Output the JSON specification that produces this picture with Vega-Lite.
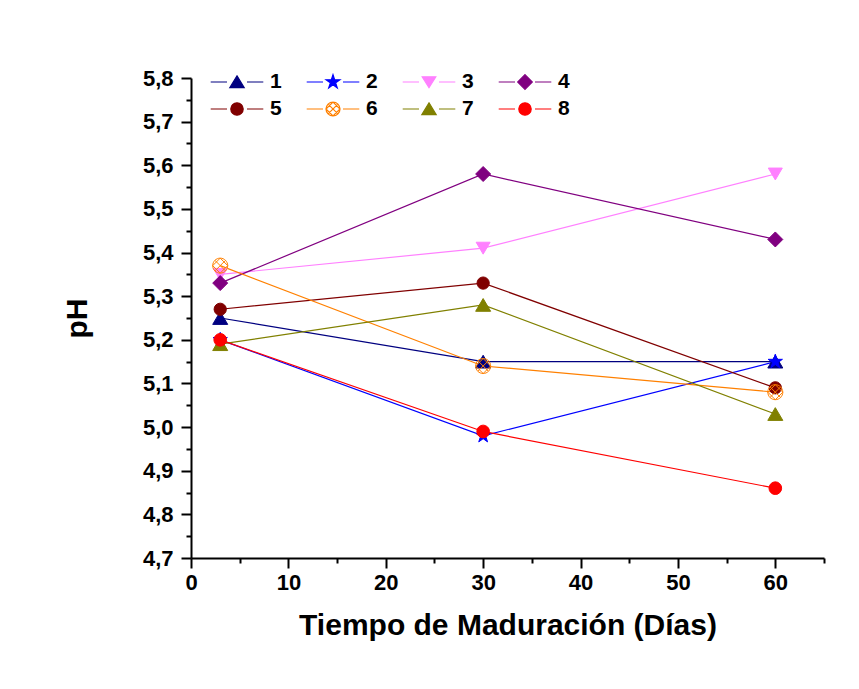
{
  "$schema": "https://vega.github.io/schema/vega-lite/v6.json",
  "width": 633,
  "height": 480,
  "autosize": "none",
  "padding": {"left": 191, "top": 78, "right": 35, "bottom": 131},
  "background": "white",
  "config": {
    "view": {"stroke": null},
    "font": "Liberation Sans"
  },
  "data": {
    "values": [
      {"s": "1", "day": 3, "pH": 5.25}, {"s": "1", "day": 30, "pH": 5.15}, {"s": "1", "day": 60, "pH": 5.15},
      {"s": "2", "day": 3, "pH": 5.20}, {"s": "2", "day": 30, "pH": 4.98}, {"s": "2", "day": 60, "pH": 5.15},
      {"s": "3", "day": 3, "pH": 5.35}, {"s": "3", "day": 30, "pH": 5.41}, {"s": "3", "day": 60, "pH": 5.58},
      {"s": "4", "day": 3, "pH": 5.33}, {"s": "4", "day": 30, "pH": 5.58}, {"s": "4", "day": 60, "pH": 5.43},
      {"s": "5", "day": 3, "pH": 5.27}, {"s": "5", "day": 30, "pH": 5.33}, {"s": "5", "day": 60, "pH": 5.09},
      {"s": "6", "day": 3, "pH": 5.37}, {"s": "6", "day": 30, "pH": 5.14}, {"s": "6", "day": 60, "pH": 5.08},
      {"s": "7", "day": 3, "pH": 5.19}, {"s": "7", "day": 30, "pH": 5.28}, {"s": "7", "day": 60, "pH": 5.03},
      {"s": "8", "day": 3, "pH": 5.20}, {"s": "8", "day": 30, "pH": 4.99}, {"s": "8", "day": 60, "pH": 4.86}
    ]
  },
  "encoding": {
    "x": {
      "field": "day", "type": "quantitative",
      "scale": {"domain": [0, 65], "nice": false, "zero": false},
      "axis": {
        "title": "Tiempo de Maduración (Días)",
        "values": [0, 5, 10, 15, 20, 25, 30, 35, 40, 45, 50, 55, 60, 65],
        "labelExpr": "datum.value % 10 == 0 ? datum.label : ''",
        "tickSize": {"condition": {"test": "datum.value % 10 == 0", "value": 10}, "value": 5},
        "grid": false,
        "domainColor": "black", "domainWidth": 2,
        "tickColor": "black", "tickWidth": 2,
        "labelFont": "Liberation Sans", "labelFontSize": 22, "labelFontWeight": "bold", "labelColor": "black",
        "labelPadding": 4, "labelFlush": false, "labelOverlap": false,
        "titleFont": "Liberation Sans", "titleFontSize": 30, "titleFontWeight": "bold", "titleColor": "black",
        "titlePadding": 17
      }
    },
    "y": {
      "field": "pH", "type": "quantitative",
      "scale": {"domain": [4.7, 5.8], "nice": false, "zero": false},
      "axis": {
        "title": "pH",
        "values": [4.7, 4.75, 4.8, 4.85, 4.9, 4.95, 5.0, 5.05, 5.1, 5.15, 5.2, 5.25, 5.3, 5.35, 5.4, 5.45, 5.5, 5.55, 5.6, 5.65, 5.7, 5.75, 5.8],
        "labelExpr": "round(datum.value * 100) % 10 == 0 ? replace(format(datum.value, '.1f'), '.', ',') : ''",
        "tickSize": {"condition": {"test": "round(datum.value * 100) % 10 == 0", "value": 10}, "value": 5},
        "grid": false,
        "domainColor": "black", "domainWidth": 2,
        "tickColor": "black", "tickWidth": 2,
        "labelFont": "Liberation Sans", "labelFontSize": 22, "labelFontWeight": "bold", "labelColor": "black",
        "labelPadding": 8, "labelFlush": false, "labelOverlap": false,
        "titleFont": "Liberation Sans", "titleFontSize": 30, "titleFontWeight": "bold", "titleColor": "black",
        "titlePadding": 50
      }
    }
  },
  "layer": [
    {
      "mark": {"type": "line", "strokeWidth": 1.2},
      "encoding": {
        "stroke": {
          "field": "s", "type": "nominal",
          "scale": {"domain": ["1", "2", "3", "4", "5", "6", "7", "8"], "range": ["#000080", "#0000ff", "#ff80ff", "#800080", "#800000", "#ff8000", "#808000", "#ff0000"]},
          "legend": {"title": null, "orient": "none", "direction": "horizontal", "legendX": 35, "legendY": -7, "columns": 4, "symbolSize": 400, "labelOffset": 22, "columnPadding": 22, "rowPadding": 6, "labelFont": "Liberation Sans", "labelFontSize": 21, "labelFontWeight": "bold", "labelColor": "black", "padding": 0, "symbolStrokeWidth": 1.2, "symbolOpacity": 1}
        }
      }
    },
    {
      "transform": [{"filter": "datum.s == '1'"}],
      "mark": {"type": "point", "filled": true, "shape": "M0,-0.85L1,0.85L-1,0.85Z", "size": 225, "fill": "#000080", "stroke": "#000080", "strokeWidth": 1, "opacity": 1}
    },
    {
      "transform": [{"filter": "datum.s == '2'"}],
      "mark": {"type": "point", "filled": true, "shape": "M0,-1L0.224,-0.309L0.951,-0.309L0.363,0.118L0.588,0.809L0,0.382L-0.588,0.809L-0.363,0.118L-0.951,-0.309L-0.224,-0.309Z", "size": 225, "fill": "#0000ff", "stroke": "#0000ff", "strokeWidth": 1, "opacity": 1}
    },
    {
      "transform": [{"filter": "datum.s == '3'"}],
      "mark": {"type": "point", "filled": true, "shape": "M-1,-0.85L1,-0.85L0,0.85Z", "size": 196, "fill": "#ff80ff", "stroke": "#ff80ff", "strokeWidth": 1, "opacity": 1}
    },
    {
      "transform": [{"filter": "datum.s == '4'"}],
      "mark": {"type": "point", "filled": true, "shape": "diamond", "size": 225, "fill": "#800080", "stroke": "#800080", "strokeWidth": 1, "opacity": 1}
    },
    {
      "transform": [{"filter": "datum.s == '5'"}],
      "mark": {"type": "point", "filled": true, "shape": "circle", "size": 150, "fill": "#800000", "stroke": "#800000", "strokeWidth": 1, "opacity": 1}
    },
    {
      "transform": [{"filter": "datum.s == '6'"}],
      "mark": {"type": "point", "filled": false, "shape": "M-1,0A1,1 0 1,1 1,0A1,1 0 1,1 -1,0ZM-0.7,-0.7L0.7,0.7M0.7,-0.7L-0.7,0.7M-1,0L0,-1L1,0L0,1Z", "size": 225, "fill": "transparent", "stroke": "#ff8000", "strokeWidth": 1, "opacity": 1}
    },
    {
      "transform": [{"filter": "datum.s == '7'"}],
      "mark": {"type": "point", "filled": true, "shape": "M0,-0.85L1,0.85L-1,0.85Z", "size": 225, "fill": "#808000", "stroke": "#808000", "strokeWidth": 1, "opacity": 1}
    },
    {
      "transform": [{"filter": "datum.s == '8'"}],
      "mark": {"type": "point", "filled": true, "shape": "circle", "size": 160, "fill": "#ff0000", "stroke": "#ff0000", "strokeWidth": 1, "opacity": 1}
    },
    {
      "transform": [{"filter": "false"}],
      "mark": {"type": "point", "filled": true, "strokeWidth": 1.2, "opacity": 1},
      "encoding": {
        "shape": {
          "field": "s", "type": "nominal",
          "scale": {
            "domain": ["1", "2", "3", "4", "5", "6", "7", "8"],
            "range": [
              "M-2.63,0H-1M1,0H2.63M0,-0.62L0.72,0.57L-0.72,0.57Z",
              "M-2.63,0H-1M1,0H2.63M0,-0.73L0.164,-0.226L0.694,-0.226L0.266,0.087L0.429,0.591L0,0.28L-0.429,0.591L-0.266,0.087L-0.694,-0.226L-0.164,-0.226Z",
              "M-2.63,0H-1M1,0H2.63M-0.68,-0.52L0.68,-0.52L0,0.57Z",
              "M-2.63,0H-1M1,0H2.63M0,-0.73L0.73,0L0,0.73L-0.73,0Z",
              "M-2.63,0H-1M1,0H2.63M-0.62,0A0.62,0.62 0 1,1 0.62,0A0.62,0.62 0 1,1 -0.62,0Z",
              "M-2.63,0H-1M1,0H2.63M-0.7,0A0.7,0.7 0 1,1 0.7,0A0.7,0.7 0 1,1 -0.7,0ZM-0.49,-0.49L0.49,0.49M0.49,-0.49L-0.49,0.49M-0.7,0L0,-0.7L0.7,0L0,0.7Z",
              "M-2.63,0H-1M1,0H2.63M0,-0.62L0.72,0.57L-0.72,0.57Z",
              "M-2.63,0H-1M1,0H2.63M-0.62,0A0.62,0.62 0 1,1 0.62,0A0.62,0.62 0 1,1 -0.62,0Z"
            ]
          },
          "legend": {"title": null, "orient": "none", "direction": "horizontal", "legendX": 35, "legendY": -7, "columns": 4, "symbolSize": 400, "labelOffset": 22, "columnPadding": 22, "rowPadding": 6, "labelFont": "Liberation Sans", "labelFontSize": 21, "labelFontWeight": "bold", "labelColor": "black", "padding": 0, "symbolStrokeWidth": 1.2, "symbolOpacity": 1}
        },
        "fill": {
          "field": "s", "type": "nominal",
          "scale": {"domain": ["1", "2", "3", "4", "5", "6", "7", "8"], "range": ["#000080", "#0000ff", "#ff80ff", "#800080", "#800000", "transparent", "#808000", "#ff0000"]},
          "legend": {"title": null, "orient": "none", "direction": "horizontal", "legendX": 35, "legendY": -7, "columns": 4, "symbolSize": 400, "labelOffset": 22, "columnPadding": 22, "rowPadding": 6, "labelFont": "Liberation Sans", "labelFontSize": 21, "labelFontWeight": "bold", "labelColor": "black", "padding": 0, "symbolStrokeWidth": 1.2, "symbolOpacity": 1}
        },
        "stroke": {
          "field": "s", "type": "nominal",
          "legend": {"title": null, "orient": "none", "direction": "horizontal", "legendX": 35, "legendY": -7, "columns": 4, "symbolSize": 400, "labelOffset": 22, "columnPadding": 22, "rowPadding": 6, "labelFont": "Liberation Sans", "labelFontSize": 21, "labelFontWeight": "bold", "labelColor": "black", "padding": 0, "symbolStrokeWidth": 1.2, "symbolOpacity": 1}
        }
      }
    }
  ]
}
